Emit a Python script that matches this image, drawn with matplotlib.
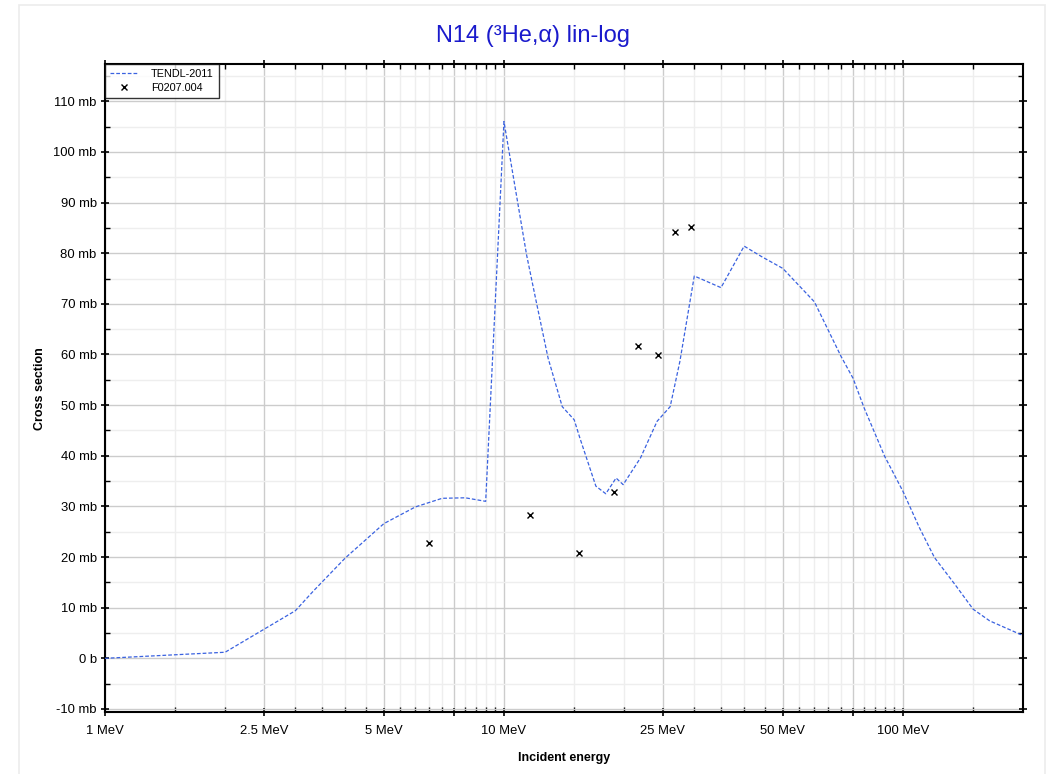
import matplotlib
matplotlib.use("Agg")
import matplotlib.pyplot as plt
from matplotlib.ticker import FixedLocator, FuncFormatter, MultipleLocator
from matplotlib.patches import Rectangle

plt.rcParams['font.family'] = ['Liberation Sans', 'DejaVu Sans']

# TENDL-2011 evaluated curve (energy in MeV, cross section in mb)
tendl_e = [1.0, 2.0, 3.0, 3.33, 4.0, 5.0, 6.0, 7.0, 8.0, 9.0, 10.0, 11.4, 12.0,
           12.9, 14.0, 15.0, 15.5, 17.0, 18.0, 19.1, 19.9, 22.0, 24.2, 26.1, 27.6,
           30.0, 35.0, 40.0, 44.3, 50.0, 60.0, 70.0, 75.0, 80.0, 90.0, 100.0,
           110.0, 120.0, 135.0, 150.0, 165.0, 200.0]
tendl_xs = [0.0, 1.2, 9.4, 13.3, 19.8, 26.6, 29.9, 31.6, 31.7, 31.0, 106.0, 79.6,
            71.1, 59.3, 49.7, 47.1, 43.5, 34.0, 32.5, 35.6, 34.3, 39.6, 46.8, 49.7,
            58.6, 75.5, 73.2, 81.4, 79.3, 77.0, 70.4, 59.6, 55.3, 49.4, 39.9, 33.0,
            25.8, 19.9, 14.6, 9.7, 7.4, 4.5]

# EXFOR F0207.004 experimental points
exp_e = [6.47, 11.6, 15.4, 18.9, 21.7, 24.3, 26.9, 29.5]
exp_xs = [22.8, 28.3, 20.7, 32.8, 61.7, 59.8, 84.1, 85.2]

x_major = [1, 2.5, 5, 7.5, 10, 25, 50, 75, 100]
x_major_labels = {1: "1 MeV", 2.5: "2.5 MeV", 5: "5 MeV", 10: "10 MeV",
                  25: "25 MeV", 50: "50 MeV", 100: "100 MeV"}
x_minor = [1.5, 2, 3, 3.5, 4, 4.5, 5.5, 6, 6.5, 7, 8, 8.5, 9, 9.5, 15, 20,
           30, 35, 40, 45, 55, 60, 65, 70, 80, 85, 90, 95, 150]

fig = plt.figure(figsize=(10.49, 7.74), dpi=100)
fig.patch.set_facecolor('white')
fig.add_artist(Rectangle((0.018, -0.01), 0.978, 1.003, transform=fig.transFigure,
                         fill=False, edgecolor='#ececec', linewidth=1.2))
ax = fig.add_axes([0.1001, 0.0801, 0.8751, 0.8368])

ax.set_xscale('log')
ax.set_xlim(1, 200)
ax.set_ylim(-10.6, 117.3)

ax.plot(tendl_e, tendl_xs, color='#3a62e0', linewidth=0.9,
        linestyle=(0, (3, 1.6)), label='TENDL-2011', zorder=3)
ax.plot(exp_e, exp_xs, linestyle='none', marker='x', markersize=4.5,
        markeredgewidth=1.0, color='black', label='F0207.004', zorder=4)

ax.xaxis.set_major_locator(FixedLocator(x_major))
ax.xaxis.set_minor_locator(FixedLocator(x_minor))
ax.xaxis.set_major_formatter(FuncFormatter(lambda v, p: x_major_labels.get(round(v, 3), "")))
ax.xaxis.set_minor_formatter(FuncFormatter(lambda v, p: ""))

ax.yaxis.set_major_locator(MultipleLocator(10))
ax.yaxis.set_minor_locator(MultipleLocator(5))
ax.yaxis.set_major_formatter(FuncFormatter(lambda v, p: "0 b" if abs(v) < 1e-9 else f"{v:g} mb"))

ax.grid(which='major', color='#cccccc', linewidth=1.0, zorder=0)
ax.grid(which='minor', color='#eeeeee', linewidth=1.0, zorder=0)
ax.set_axisbelow(True)

for s in ax.spines.values():
    s.set_linewidth(1.5)
    s.set_color('black')

ax.tick_params(which='major', direction='inout', length=6, width=1.2,
               top=True, right=True, labelsize=9.4, pad=3)
ax.tick_params(axis='x', which='major', pad=6)
ax.tick_params(which='minor', direction='in', length=3.5, width=1.0,
               top=True, right=True)

ax.set_xlabel('Incident energy', fontsize=9, fontweight='bold', labelpad=11)
ax.set_ylabel('Cross section', fontsize=9, fontweight='bold', labelpad=5)

fig.text(0.508, 0.953, 'N14 (³He,α) lin-log', color='#1a1acc', fontsize=17,
         ha='center', va='center')

leg = ax.legend(loc='upper left', bbox_to_anchor=(0, 1), borderaxespad=0,
                fontsize=7.8, frameon=True, fancybox=False, handlelength=2.6,
                borderpad=0.45, labelspacing=0.35, handletextpad=1.2)
leg.get_frame().set_edgecolor('black')
leg.get_frame().set_linewidth(1.0)

fig.savefig('out.png', dpi=100)
